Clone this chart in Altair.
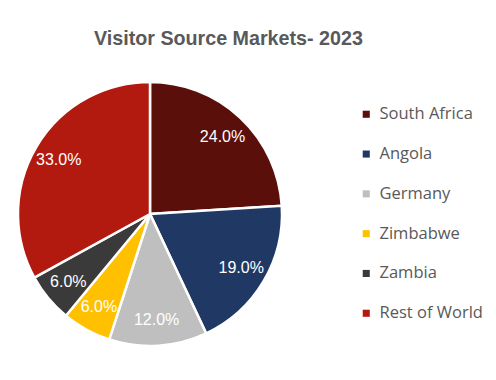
import altair as alt
import pandas as pd

markets = ["South Africa", "Angola", "Germany", "Zimbabwe", "Zambia", "Rest of World"]
shares = [24.0, 19.0, 12.0, 6.0, 6.0, 33.0]
colors = ["#5a0f0a", "#1f3864", "#bfbfbf", "#ffc000", "#3a3a3a", "#b2190f"]

df = pd.DataFrame({
    "Market": markets,
    "Share": shares,
    "idx": list(range(len(markets))),
    "Label": [f"{v:.1f}%" for v in shares],
})

CX, CY, R = 142, 206, 132

base = alt.Chart(df).encode(
    theta=alt.Theta("Share:Q", stack=True),
    order=alt.Order("idx:Q", sort="ascending"),
)

pie = base.mark_arc(outerRadius=R, stroke="white", strokeWidth=2.5).encode(
    x=alt.value(CX), y=alt.value(CY),
    color=alt.Color(
        "Market:N",
        scale=alt.Scale(domain=markets, range=colors),
        sort=markets,
        legend=alt.Legend(
            title=None,
            orient="none",
            legendX=350,
            legendY=98,
            symbolType="square",
            symbolSize=50,
            symbolStrokeWidth=0,
            labelFontSize=16.5,
            labelFont="Open Sans",
            labelColor="#595959",
            labelOffset=5,
            rowPadding=22.8,
            labelLimit=200,
        ),
    ),
)

labels = base.mark_text(radius=106, fontSize=16, font="Liberation Sans", color="white").encode(
    x=alt.value(CX), y=alt.value(CY),
    text="Label:N",
)

chart = (pie + labels).properties(
    width=480,
    height=364,
    autosize=alt.AutoSizeParams(type="none"),
    padding=0,
    title=alt.Title(
        "Visitor Source Markets- 2023",
        fontSize=19.7,
        font="Liberation Sans",
        fontWeight="bold",
        color="#595959",
        anchor="start",
        dx=86,
        offset=-41,
    ),
).configure_view(stroke=None)

chart.save("out.html", embed_options={"renderer": "svg", "actions": False})
